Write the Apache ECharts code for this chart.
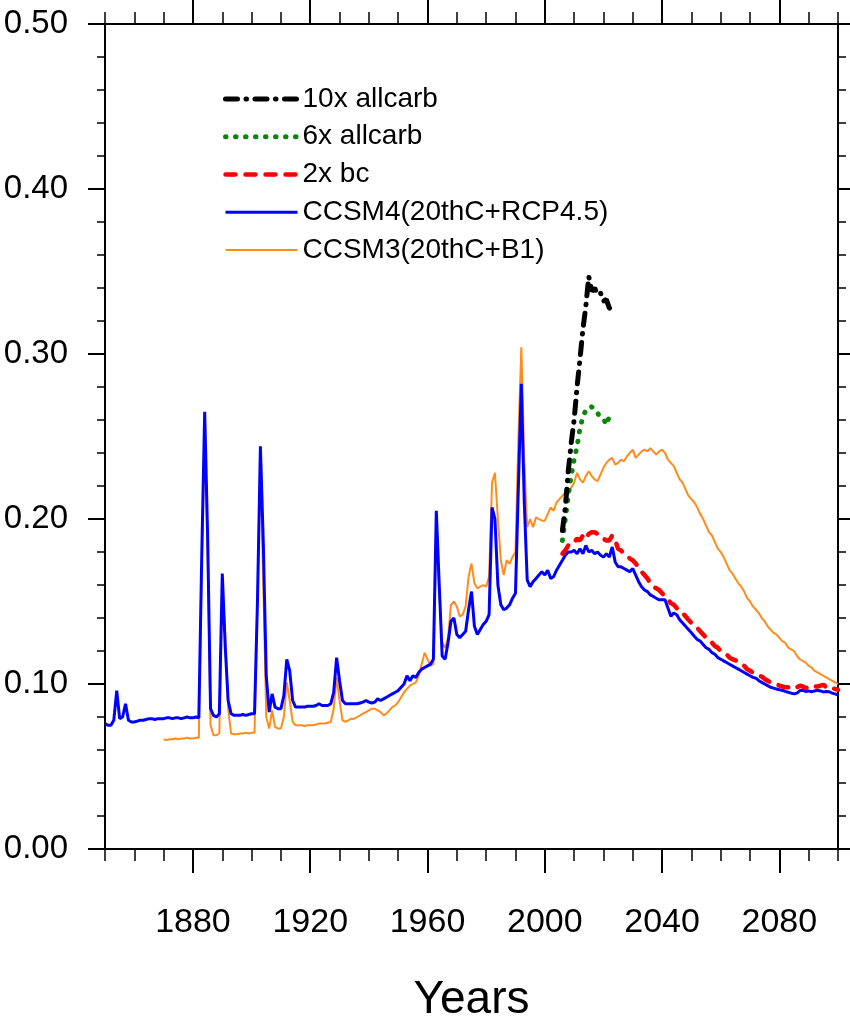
<!DOCTYPE html>
<html><head><meta charset="utf-8">
<script src="https://cdn.jsdelivr.net/npm/echarts@6/dist/echarts.min.js"></script>
<style>html,body{margin:0;padding:0;background:#fff}#c{width:850px;height:1020px}</style>
</head><body><div id="c"></div>
<script>
// ---- data (annual values) ----
const ccsm4Start = 1850;
const ccsm4Values = [
0.076,0.075,0.075,0.078,0.096,0.079,0.080,0.088,0.078,0.077,
0.077,0.0775,0.078,0.078,0.0785,0.079,0.079,0.0785,0.079,0.079,
0.079,0.0795,0.0795,0.079,0.0795,0.0795,0.079,0.0795,0.080,0.0795,
0.0795,0.080,0.0795,0.178,0.265,0.190,0.085,0.081,0.080,0.082,
0.167,0.123,0.090,0.082,0.081,0.081,0.081,0.0815,0.081,0.0815,
0.082,0.082,0.150,0.244,0.185,0.105,0.083,0.094,0.086,0.085,
0.085,0.093,0.115,0.108,0.090,0.086,0.086,0.086,0.086,0.0865,
0.0865,0.0865,0.087,0.088,0.087,0.087,0.087,0.088,0.095,0.116,
0.102,0.090,0.088,0.088,0.088,0.088,0.088,0.0885,0.089,0.090,
0.089,0.0885,0.089,0.091,0.090,0.091,0.092,0.093,0.094,0.095,
0.096,0.098,0.100,0.105,0.102,0.105,0.104,0.107,0.109,0.110,
0.111,0.112,0.115,0.205,0.160,0.117,0.115,0.125,0.138,0.140,
0.130,0.128,0.130,0.132,0.145,0.156,0.135,0.130,0.133,0.136,
0.138,0.142,0.207,0.200,0.160,0.148,0.145,0.146,0.148,0.152,
0.155,0.220,0.282,0.210,0.163,0.159,0.162,0.164,0.166,0.168,
0.166,0.169,0.164,0.165,0.169,0.172,0.175,0.178,0.180,0.180,
0.181,0.179,0.182,0.179,0.184,0.180,0.181,0.179,0.180,0.178,
0.177,0.179,0.177,0.183,0.174,0.171,0.171,0.170,0.169,0.168,
0.170,0.166,0.162,0.159,0.157,0.156,0.154,0.153,0.152,0.151,
0.151,0.151,0.146,0.141,0.143,0.142,0.139,0.137,0.135,0.133,
0.131,0.129,0.127,0.126,0.124,0.122,0.121,0.119,0.118,0.116,
0.115,0.114,0.113,0.112,0.111,0.110,0.109,0.108,0.107,0.106,
0.105,0.104,0.1035,0.102,0.101,0.100,0.099,0.098,0.0975,0.097,
0.0965,0.0962,0.0955,0.095,0.0945,0.094,0.0945,0.096,0.0962,0.0955,
0.0958,0.0953,0.0958,0.0962,0.0958,0.0952,0.0955,0.0953,0.0945,0.094,0.0933];

const ccsm3Start = 1870;
const ccsm3Values = [
0.0665,0.066,0.0665,0.0665,0.067,0.0665,0.067,0.067,0.0675,0.067,
0.067,0.0675,0.0675,0.170,0.250,0.180,0.075,0.069,0.069,0.070,
0.160,0.130,0.085,0.070,0.0695,0.0695,0.070,0.070,0.0705,0.070,
0.0705,0.0705,0.150,0.235,0.160,0.080,0.073,0.084,0.074,0.073,
0.073,0.080,0.101,0.090,0.077,0.075,0.075,0.075,0.0745,0.075,
0.075,0.075,0.0755,0.076,0.076,0.076,0.0765,0.077,0.085,0.104,
0.090,0.078,0.077,0.078,0.079,0.079,0.080,0.081,0.082,0.083,
0.084,0.085,0.085,0.084,0.083,0.081,0.082,0.084,0.086,0.087,
0.089,0.092,0.095,0.097,0.099,0.100,0.101,0.105,0.112,0.119,
0.115,0.111,0.112,0.190,0.155,0.125,0.122,0.128,0.148,0.150,
0.147,0.141,0.142,0.147,0.165,0.173,0.161,0.158,0.159,0.160,
0.159,0.165,0.222,0.228,0.200,0.175,0.166,0.175,0.173,0.177,
0.180,0.250,0.304,0.235,0.195,0.200,0.195,0.201,0.200,0.199,
0.199,0.203,0.207,0.205,0.210,0.212,0.214,0.216,0.215,0.219,
0.222,0.228,0.224,0.222,0.226,0.229,0.226,0.224,0.223,0.227,
0.231,0.234,0.236,0.237,0.233,0.234,0.236,0.235,0.238,0.240,
0.242,0.237,0.239,0.241,0.242,0.241,0.243,0.241,0.239,0.241,
0.242,0.240,0.236,0.234,0.232,0.228,0.224,0.222,0.218,0.214,
0.212,0.210,0.207,0.203,0.200,0.196,0.192,0.190,0.186,0.182,
0.180,0.177,0.173,0.169,0.167,0.164,0.161,0.159,0.156,0.152,
0.150,0.147,0.145,0.143,0.140,0.138,0.135,0.133,0.131,0.130,
0.128,0.126,0.125,0.122,0.121,0.120,0.117,0.115,0.114,0.113,
0.111,0.110,0.108,0.107,0.106,0.105,0.104,0.103,0.102,0.101,0.100];

const bcStart = 2006;
const bcValues = [
0.179,0.181,0.184,0.186,0.186,0.188,0.187,0.190,0.188,0.191,
0.192,0.192,0.191,0.190,0.188,0.187,0.187,0.190,0.187,0.182,
0.181,0.179,0.178,0.176,0.175,0.173,0.171,0.168,0.166,0.164,
0.161,0.159,0.158,0.157,0.155,0.153,0.151,0.149,0.148,0.146,
0.144,0.143,0.141,0.139,0.137,0.135,0.134,0.132,0.130,0.128,
0.127,0.125,0.123,0.122,0.120,0.119,0.118,0.116,0.115,0.1145,
0.113,0.112,0.111,0.109,0.108,0.107,0.106,0.105,0.1045,0.103,
0.102,0.101,0.1005,0.100,0.099,0.0985,0.098,0.098,0.0975,0.097,
0.098,0.099,0.0985,0.0975,0.098,0.099,0.0985,0.0985,0.099,0.0995,
0.098,0.097,0.0975,0.097,0.0964];

const allcarb6Start = 2006;
const allcarb6Values = [0.187,0.200,0.214,0.226,0.236,0.244,0.255,0.262,0.266,0.268,
0.268,0.265,0.264,0.262,0.261,0.257,0.262,0.262];

const allcarb10Start = 2006;
const allcarb10Values = [0.193,0.207,0.229,0.246,0.260,0.280,0.297,0.315,0.329,0.347,
0.338,0.340,0.336,0.337,0.332,0.333,0.328,0.326];

const seriesNames = ['10x allcarb','6x allcarb','2x bc','CCSM4(20thC+RCP4.5)','CCSM3(20thC+B1)'];
const xMajorTicks = [1880,1920,1960,2000,2040,2080];
const xAxisTitle = 'Years';

function pairs(start, vals){ return vals.map((v,i)=>[start+i, v]); }

const FONT = "'Liberation Sans Narrow','Liberation Sans',Arial,sans-serif";
const axisBase = {type:'value', min:1850, max:2100, splitLine:{show:false}};
const lineBlack = {color:'#000', width:2};

const styles = {
  '10x allcarb': {color:'#000', width:5, type:[12,8.5,0.5,8.5], cap:'round'},
  '6x allcarb': {color:'#0a870a', width:5, type:[0.5,9.5], cap:'round'},
  '2x bc': {color:'#ff0000', width:4.5, type:[10,10], cap:'round'},
  'CCSM4(20thC+RCP4.5)': {color:'#0000ff', width:3},
  'CCSM3(20thC+B1)': {color:'#ff8c1a', width:2}
};

const chart = echarts.init(document.getElementById('c'), null, {renderer:'canvas'});
chart.setOption({
  animation:false,
  backgroundColor:'#fff',
  grid:{left:105, right:12, top:24, bottom:171, containLabel:false, outerBoundsMode:'none'},
  legend:{
    orient:'vertical', left:223, top:85, padding:0,
    data:seriesNames.map(n=>({name:n, lineStyle:Object.assign({}, styles[n]), itemStyle:{opacity:0}})),
    itemWidth:72, itemHeight:30, itemGap:9.75,
    itemStyle:{opacity:0},
    textStyle:{fontFamily:FONT, fontSize:28, color:'#000'},
    selectedMode:false
  },
  xAxis:[
    Object.assign({}, axisBase, {position:'bottom', interval:10,
      axisLine:{show:true,onZero:false,lineStyle:lineBlack},
      axisTick:{show:true,inside:false,length:12,lineStyle:{color:'#000',width:1.5}},
      axisLabel:{show:false}}),
    Object.assign({}, axisBase, {position:'bottom',
      axisLine:{show:false,onZero:false},
      axisTick:{show:true,inside:false,length:24,customValues:xMajorTicks,lineStyle:{color:'#000',width:2}},
      axisLabel:{show:true,customValues:xMajorTicks,margin:57,fontSize:34,fontFamily:FONT,color:'#000',formatter:v=>String(v)},
      name:xAxisTitle, nameLocation:'middle', nameGap:128,
      nameTextStyle:{fontSize:46,fontFamily:FONT,color:'#000'}}),
    Object.assign({}, axisBase, {position:'top', interval:10,
      axisLine:{show:true,onZero:false,lineStyle:lineBlack},
      axisTick:{show:true,inside:false,length:12,lineStyle:{color:'#000',width:1.5}},
      axisLabel:{show:false}}),
    Object.assign({}, axisBase, {position:'top',
      axisLine:{show:false,onZero:false},
      axisTick:{show:true,inside:false,length:24,customValues:xMajorTicks,lineStyle:{color:'#000',width:2}},
      axisLabel:{show:false}})
  ],
  yAxis:[
    {type:'value', min:0, max:0.5, interval:0.1, position:'left',
      axisLine:{show:true,onZero:false,lineStyle:lineBlack},
      axisTick:{show:true,inside:false,length:17,lineStyle:{color:'#000',width:2}},
      minorTick:{show:true,splitNumber:5,length:8,lineStyle:{color:'#000',width:1.5}},
      axisLabel:{show:true,margin:37,fontSize:33,fontFamily:FONT,color:'#000',formatter:v=>v.toFixed(2)},
      splitLine:{show:false}},
    {type:'value', min:0, max:0.5, interval:0.1, position:'right',
      axisLine:{show:true,onZero:false,lineStyle:lineBlack},
      axisTick:{show:true,inside:false,length:17,lineStyle:{color:'#000',width:2}},
      minorTick:{show:true,splitNumber:5,length:8,lineStyle:{color:'#000',width:1.5}},
      axisLabel:{show:false}, splitLine:{show:false}}
  ],
  series:[
    {name:seriesNames[4], type:'line', data:pairs(ccsm3Start, ccsm3Values), showSymbol:false, symbol:'none',
      lineStyle:styles[seriesNames[4]], itemStyle:{color:'#ff8c1a'}, z:2},
    {name:seriesNames[3], type:'line', data:pairs(ccsm4Start, ccsm4Values), showSymbol:false, symbol:'none',
      lineStyle:styles[seriesNames[3]], itemStyle:{color:'#0000ff'}, z:3},
    {name:seriesNames[2], type:'line', data:pairs(bcStart, bcValues), showSymbol:false, symbol:'none',
      lineStyle:styles[seriesNames[2]], itemStyle:{color:'#ff0000'}, z:4},
    {name:seriesNames[1], type:'line', data:pairs(allcarb6Start, allcarb6Values), showSymbol:false, symbol:'none',
      lineStyle:styles[seriesNames[1]], itemStyle:{color:'#0a870a'}, z:5},
    {name:seriesNames[0], type:'line', data:pairs(allcarb10Start, allcarb10Values), showSymbol:false, symbol:'none',
      lineStyle:styles[seriesNames[0]], itemStyle:{color:'#000'}, z:6}
  ]
});
</script>
</body></html>
